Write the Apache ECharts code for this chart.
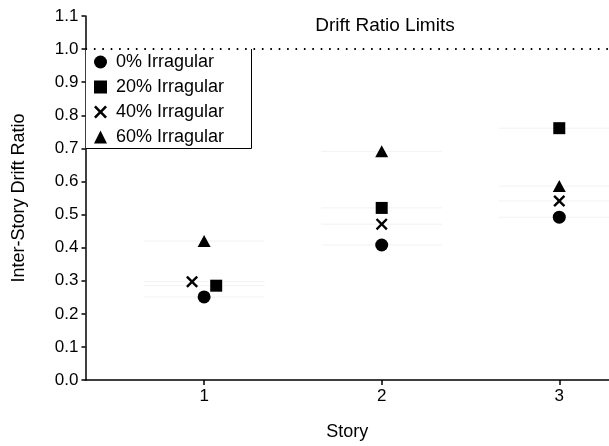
<!DOCTYPE html>
<html>
<head>
<meta charset="utf-8">
<script src="https://cdn.jsdelivr.net/npm/echarts@6/dist/echarts.min.js"></script>
<style>
  html, body { margin: 0; padding: 0; background: #fff; }
  #charts { width: 609px; height: 446px; }
</style>
</head>
<body>
<div id="charts"></div>
<script>
// story numbers on the x axis
var stories = [1, 2, 3];
var yTicks = [0, 0.1, 0.2, 0.3, 0.4, 0.5, 0.6, 0.7, 0.8, 0.9, 1.0, 1.1];

// inter-story drift ratio for each irregularity level
var irr0 = [0.251, 0.408, 0.492];
var irr20 = [0.285, 0.520, 0.761];
var irr40 = [0.297, 0.471, 0.541];
var irr60 = [0.420, 0.691, 0.586];

// small horizontal nudge of overlapping markers (story 1)
var shift20 = [0.068, 0, 0];
var shift40 = [-0.068, 0, 0];

var limit = 1.0;
var names = ['0% Irragular', '20% Irragular', '40% Irragular', '60% Irragular'];

var font = 'Liberation Sans, Arial, sans-serif';
var crossPath = 'path://M0,1.7L1.7,0L6,4.3L10.3,0L12,1.7L7.7,6L12,10.3L10.3,12L6,7.7L1.7,12L0,10.3L4.3,6Z';

function pts(vals, shift) {
    return stories.map(function (s, i) {
        return [s + (shift ? shift[i] : 0), vals[i]];
    });
}

// faint guide lines behind each marker
function guides(vals) {
    var out = [];
    stories.forEach(function (s, i) {
        out.push({
            type: 'line', silent: true, symbol: 'none', z: 1,
            lineStyle: { color: '#f2f2f2', width: 1 },
            data: [[s - 0.34, vals[i]], [s + 0.34, vals[i]]]
        });
    });
    return out;
}

var myChart = echarts.init(document.getElementById('charts'));

var mark = { color: '#000', opacity: 1 };

var series = [
    {
        name: names[0], type: 'scatter', symbol: 'circle', symbolSize: 13,
        itemStyle: mark, data: pts(irr0), z: 5,
        markLine: {
            silent: true, symbol: 'none', label: { show: false },
            lineStyle: { color: '#000', width: 2, type: [1.6, 6.8] },
            data: [{ yAxis: limit }]
        }
    },
    {
        name: names[1], type: 'scatter', symbol: 'rect', symbolSize: 12,
        itemStyle: mark, data: pts(irr20, shift20), z: 5
    },
    {
        name: names[2], type: 'scatter', symbol: crossPath, symbolSize: 12,
        itemStyle: mark, data: pts(irr40, shift40), z: 5
    },
    {
        name: names[3], type: 'scatter', symbol: 'triangle', symbolSize: [13, 12],
        itemStyle: mark, data: pts(irr60), z: 5
    }
];
series = series.concat(guides(irr0), guides(irr20), guides(irr40), guides(irr60));

var option = {
    animation: false,
    backgroundColor: '#fff',
    textStyle: { fontFamily: font, color: '#000' },
    title: {
        text: 'Drift Ratio Limits',
        left: 385, top: 16, textAlign: 'center', padding: 0,
        textStyle: { fontFamily: font, fontSize: 19, fontWeight: 'normal', color: '#000' }
    },
    legend: {
        data: names,
        orient: 'vertical',
        left: 86, top: 49,
        padding: [4, 28, 3, 8],
        itemGap: 7,
        itemWidth: 13, itemHeight: 13,
        backgroundColor: '#fff',
        itemStyle: { opacity: 1 },
        textStyle: { fontFamily: font, fontSize: 18, color: '#000', lineHeight: 18, padding: [0, 0, 0, 4] }
    },
    graphic: [{
        type: 'polyline', z: 100,
        shape: { points: [[251.5, 49], [251.5, 148.5], [86, 148.5]] },
        style: { stroke: '#000', lineWidth: 1, fill: null }
    }],
    grid: { left: 85.5, right: 0, top: 16, bottom: 64.5 },
    xAxis: {
        type: 'value', min: 0.332, max: 3.28,
        name: 'Story', nameLocation: 'middle', nameGap: 43,
        nameTextStyle: { fontFamily: font, fontSize: 18, color: '#000' },
        axisLine: { onZero: false, lineStyle: { color: '#000', width: 1.5 } },
        axisTick: { customValues: stories, length: 5, lineStyle: { color: '#000', width: 1.5 } },
        axisLabel: { customValues: stories, margin: 8, fontFamily: font, fontSize: 17, color: '#000' },
        splitLine: { show: false }
    },
    yAxis: {
        type: 'value', min: 0, max: 1.1, interval: 0.1,
        name: 'Inter-Story Drift Ratio', nameLocation: 'middle', nameGap: 57,
        nameTextStyle: { fontFamily: font, fontSize: 18, color: '#000' },
        axisLine: { show: true, lineStyle: { color: '#000', width: 1.5 } },
        axisTick: { show: true, length: 4, lineStyle: { color: '#000', width: 1.5 } },
        axisLabel: {
            customValues: yTicks, margin: 7, fontFamily: font, fontSize: 17, color: '#000',
            formatter: function (v) { return v.toFixed(1); }
        },
        splitLine: { show: false }
    },
    series: series
};

myChart.setOption(option);
</script>
</body>
</html>
